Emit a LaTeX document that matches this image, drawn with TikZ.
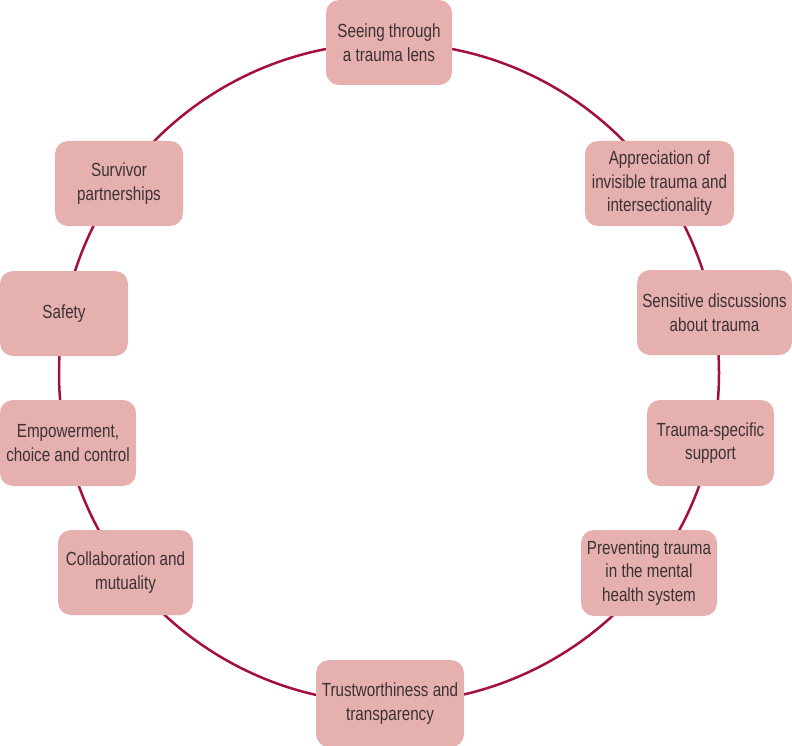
\documentclass[tikz,border=0pt]{standalone}
\usepackage{fontspec}
\setmainfont[FakeStretch=0.8]{Liberation Sans}
\definecolor{ringred}{HTML}{A4103C}
\definecolor{boxfill}{HTML}{E6B0AE}
\definecolor{txt}{HTML}{3A3235}
\tikzset{
  pbox/.style={draw=none, fill=boxfill, rounded corners=13pt, align=center,
    inner sep=0pt, text=txt, font=\fontsize{19}{23.5}\selectfont},
}
\begin{document}
\begin{tikzpicture}[x=1pt,y=-1pt]
\useasboundingbox (0,0) rectangle (792,746);
\coordinate (ctr) at (389,373);
\draw[ringred, line width=2.5pt] (ctr) circle[radius=330pt];
\node[pbox, minimum width=126pt, minimum height=85pt] (seeing) at (389,42.5) {Seeing through\\a trauma lens};
\node[pbox, minimum width=149pt, minimum height=85pt] (appr) at (659.5,183.5) {Appreciation of\\invisible trauma and\\intersectionality};
\node[pbox, minimum width=155pt, minimum height=85pt] (sens) at (714.5,312.5) {Sensitive discussions\\about trauma};
\node[pbox, minimum width=127pt, minimum height=86pt] (spec) at (710.5,443) {Trauma-specific\\support};
\node[pbox, minimum width=136pt, minimum height=86pt] (prev) at (649,573) {Preventing trauma\\in the mental\\health system};
\node[pbox, minimum width=148pt, minimum height=87pt] (trust) at (390,703.5) {Trustworthiness and\\transparency};
\node[pbox, minimum width=135pt, minimum height=85pt] (collab) at (125.5,572.5) {Collaboration and\\mutuality};
\node[pbox, minimum width=136pt, minimum height=86pt] (empow) at (68,443) {Empowerment,\\choice and control};
\node[pbox, minimum width=128pt, minimum height=85pt] (safety) at (64,313.5) {Safety};
\node[pbox, minimum width=128pt, minimum height=85pt] (surv) at (119,183.5) {Survivor\\partnerships};
\end{tikzpicture}
\end{document}
